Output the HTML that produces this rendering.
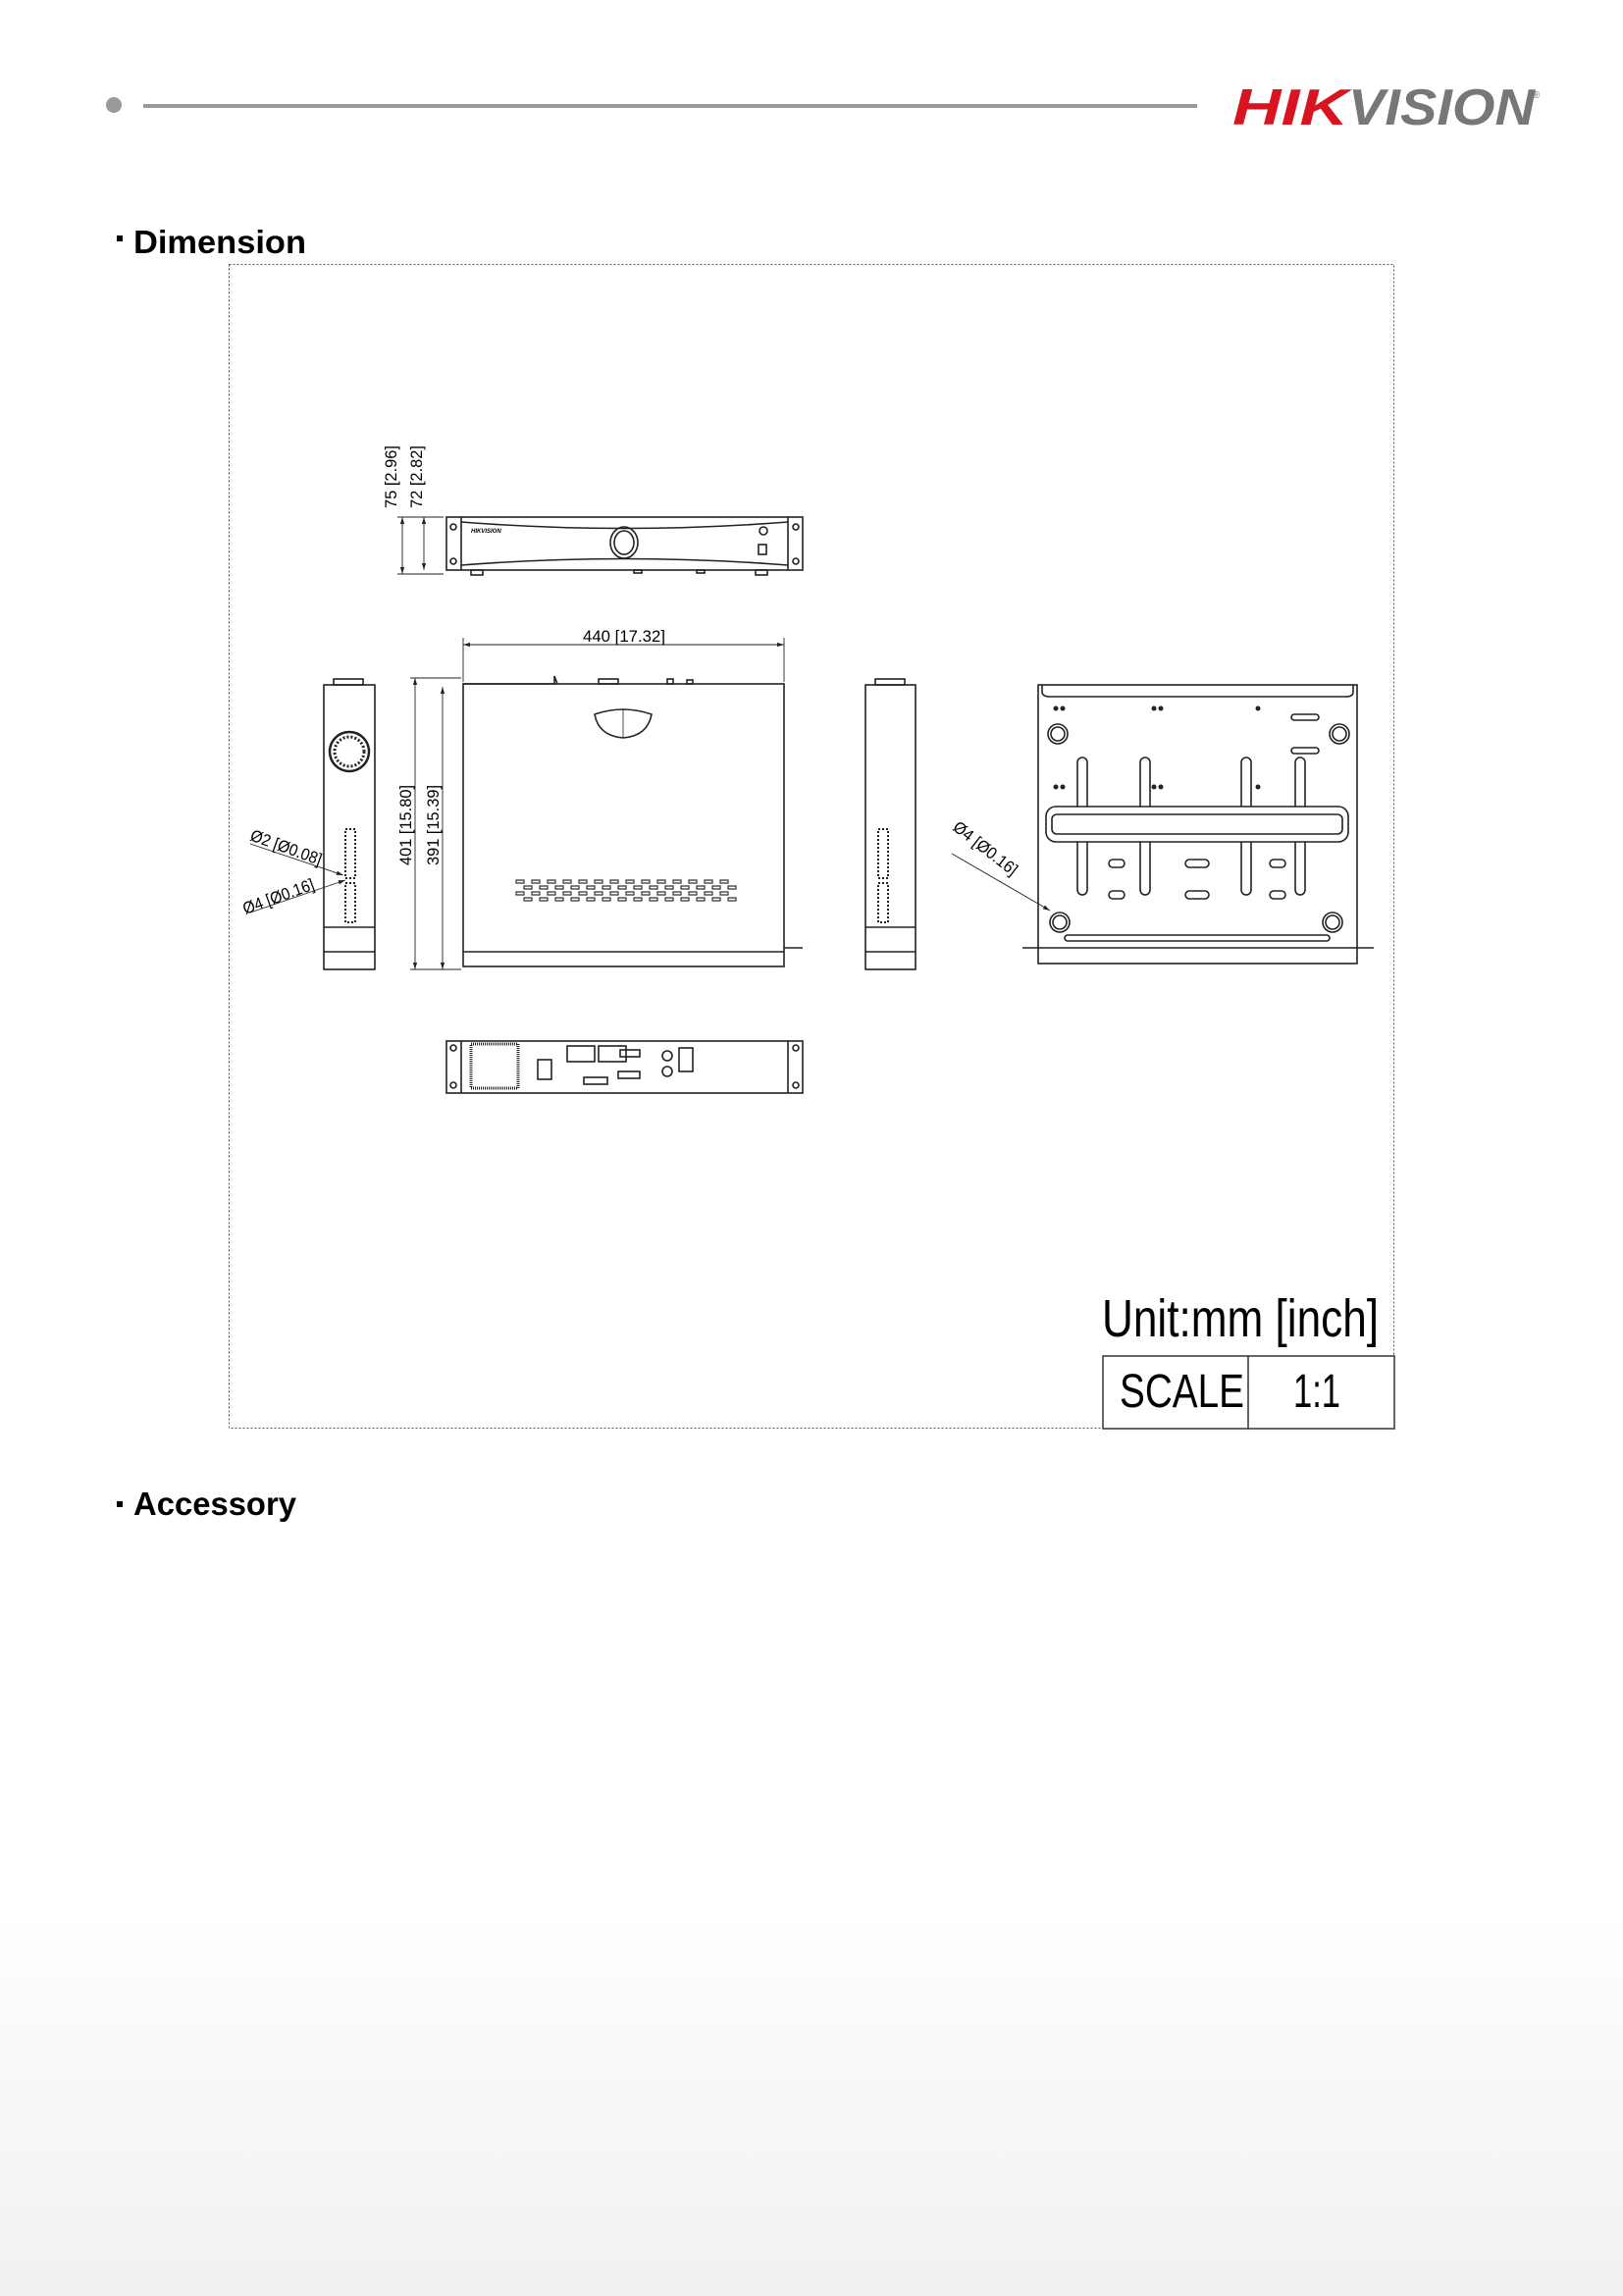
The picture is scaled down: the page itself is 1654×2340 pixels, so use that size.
<!DOCTYPE html>
<html><head><meta charset="utf-8"><style>
html,body{margin:0;padding:0;background:#fff;}
body{width:1654px;height:2340px;position:relative;overflow:hidden;font-family:"Liberation Sans",sans-serif;}
.bg{position:absolute;left:0;top:1950px;width:1654px;height:390px;background:linear-gradient(#fff,#f0f0f0);}
svg{position:absolute;left:0;top:0;}
</style></head><body>
<div class="bg"></div>
<svg width="1654" height="2340" viewBox="0 0 1654 2340" xmlns="http://www.w3.org/2000/svg" font-family="Liberation Sans, sans-serif">
<defs>
<marker id="a" viewBox="0 0 10 10" refX="10" refY="5" markerWidth="8" markerHeight="8" orient="auto-start-reverse"><path d="M0 2 L10 5 L0 8 Z" fill="#222"/></marker>
</defs>
<!-- header -->
<circle cx="116" cy="107" r="8" fill="#999"/>
<rect x="146" y="106" width="1074" height="4" fill="#999"/>
<text x="1256" y="127" font-size="52" font-weight="bold" font-style="italic" fill="#d7141f" textLength="118" lengthAdjust="spacingAndGlyphs">HIK</text>
<text x="1374" y="127" font-size="52" font-weight="bold" font-style="italic" fill="#777" textLength="190" lengthAdjust="spacingAndGlyphs">VISION</text>
<text x="1562" y="100" font-size="10" fill="#777">®</text>
<!-- titles -->
<rect x="119" y="240" width="6" height="6" fill="#000"/>
<text x="136" y="258" font-size="33" font-weight="bold" textLength="176" lengthAdjust="spacingAndGlyphs">Dimension</text>
<rect x="119" y="1530" width="6" height="6" fill="#000"/>
<text x="136" y="1544" font-size="33" font-weight="bold" textLength="166" lengthAdjust="spacingAndGlyphs">Accessory</text>
<!-- dotted box -->
<rect x="233.5" y="269.5" width="1187" height="1186" fill="none" stroke="#555" stroke-width="1" stroke-dasharray="2,2"/>
<!-- scale table -->
<rect x="1124" y="1382" width="297" height="74" fill="#fff" stroke="#333" stroke-width="1.5"/>
<line x1="1272" y1="1382" x2="1272" y2="1456" stroke="#333" stroke-width="1.5"/>
<text x="1123" y="1362" font-size="54" textLength="282" lengthAdjust="spacingAndGlyphs">Unit:mm [inch]</text>
<text x="1141" y="1434" font-size="48" textLength="127" lengthAdjust="spacingAndGlyphs">SCALE</text>
<text x="1318" y="1434" font-size="48" textLength="48" lengthAdjust="spacingAndGlyphs">1:1</text>

<g fill="none" stroke="#222" stroke-width="1.6">
<!-- front view -->
<rect x="455" y="527" width="363" height="54"/>
<line x1="470" y1="527" x2="470" y2="581"/><line x1="803" y1="527" x2="803" y2="581"/>
<path d="M470 532 Q636 545 803 532"/><path d="M470 576 Q636 563 803 576"/>
<ellipse cx="636" cy="553" rx="14" ry="16"/><ellipse cx="636" cy="553" rx="10" ry="12"/>
<circle cx="778" cy="541" r="4"/><rect x="773" y="555" width="8" height="10"/>
<circle cx="462" cy="537" r="3"/><circle cx="462" cy="572" r="3"/><circle cx="811" cy="537" r="3"/><circle cx="811" cy="572" r="3"/>
<rect x="480" y="581" width="12" height="5"/><rect x="770" y="581" width="12" height="5"/><rect x="646" y="581" width="8" height="3"/><rect x="710" y="581" width="8" height="3"/>
<g stroke-width="0.9">
<line x1="405" y1="527" x2="452" y2="527"/><line x1="405" y1="585" x2="452" y2="585"/>
<line x1="410" y1="527" x2="410" y2="585" marker-start="url(#a)" marker-end="url(#a)"/><line x1="432" y1="527" x2="432" y2="581" marker-start="url(#a)" marker-end="url(#a)"/>
</g>
<!-- top view -->
<rect x="472" y="697" width="327" height="288"/>
<line x1="472" y1="970" x2="799" y2="970"/>
<line x1="799" y1="966" x2="818" y2="966"/>
<path d="M472 697 L565 697 L565 689 L568 697"/>
<rect x="610" y="692" width="20" height="5"/><rect x="680" y="692" width="6" height="5"/><rect x="700" y="693" width="6" height="4"/>
<path d="M606 728 Q635 718 664 728 Q660 750 635 752 Q610 750 606 728 Z"/><line x1="635" y1="722" x2="635" y2="752" stroke-width="0.8"/>
<g stroke-width="0.9">
<line x1="472" y1="657" x2="799" y2="657" marker-start="url(#a)" marker-end="url(#a)"/>
<line x1="472" y1="650" x2="472" y2="695"/><line x1="799" y1="650" x2="799" y2="695"/>
<line x1="418" y1="691" x2="470" y2="691"/><line x1="418" y1="988" x2="470" y2="988"/>
<line x1="423" y1="691" x2="423" y2="988" marker-start="url(#a)" marker-end="url(#a)"/><line x1="451" y1="700" x2="451" y2="988" marker-start="url(#a)" marker-end="url(#a)"/>
</g>
<!-- left side view -->
<rect x="330" y="698" width="52" height="290"/>
<line x1="330" y1="945" x2="382" y2="945"/><line x1="330" y1="970" x2="382" y2="970"/>
<circle cx="356" cy="766" r="20" stroke-width="2.5"/><circle cx="356" cy="766" r="15" stroke-dasharray="2,2" stroke-width="3"/>
<rect x="352" y="845" width="10" height="50" stroke-dasharray="2,2" stroke-width="2"/><rect x="352" y="900" width="10" height="40" stroke-dasharray="2,2" stroke-width="2"/>
<rect x="340" y="692" width="30" height="6"/>
<line x1="255" y1="860" x2="350" y2="892" stroke-width="0.9" marker-end="url(#a)"/><line x1="255" y1="930" x2="352" y2="897" stroke-width="0.9" marker-end="url(#a)"/>
<!-- right side view -->
<rect x="882" y="698" width="51" height="290"/>
<line x1="882" y1="945" x2="933" y2="945"/><line x1="882" y1="970" x2="933" y2="970"/>
<rect x="895" y="845" width="10" height="50" stroke-dasharray="2,2" stroke-width="2"/><rect x="895" y="900" width="10" height="40" stroke-dasharray="2,2" stroke-width="2"/>
<rect x="892" y="692" width="30" height="6"/>
<!-- bottom view -->
<rect x="1058" y="698" width="325" height="284"/>
<path d="M1062 698 L1062 705 Q1062 710 1070 710 L1372 710 Q1379 710 1379 705 L1379 698"/>
<line x1="1042" y1="966" x2="1400" y2="966"/>
<rect x="1085" y="953" width="270" height="6" rx="3"/>
<circle cx="1078" cy="748" r="10"/><circle cx="1078" cy="748" r="7"/><circle cx="1365" cy="748" r="10"/><circle cx="1365" cy="748" r="7"/>
<circle cx="1080" cy="940" r="10"/><circle cx="1080" cy="940" r="7"/><circle cx="1358" cy="940" r="10"/><circle cx="1358" cy="940" r="7"/>
<g fill="#fff">
<rect x="1098" y="772" width="10" height="140" rx="5"/><rect x="1162" y="772" width="10" height="140" rx="5"/>
<rect x="1265" y="772" width="10" height="140" rx="5"/><rect x="1320" y="772" width="10" height="140" rx="5"/>
<rect x="1066" y="822" width="308" height="36" rx="10"/>
</g>
<rect x="1072" y="830" width="296" height="20" rx="5"/>
<rect x="1130" y="876" width="16" height="8" rx="4"/><rect x="1208" y="876" width="24" height="8" rx="4"/><rect x="1294" y="876" width="16" height="8" rx="4"/>
<rect x="1130" y="908" width="16" height="8" rx="4"/><rect x="1208" y="908" width="24" height="8" rx="4"/><rect x="1294" y="908" width="16" height="8" rx="4"/>
<rect x="1316" y="728" width="28" height="6" rx="3"/><rect x="1316" y="762" width="28" height="6" rx="3"/>
<line x1="970" y1="870" x2="1070" y2="928" stroke-width="0.9" marker-end="url(#a)"/>
<!-- rear view -->
<rect x="455" y="1061" width="363" height="53"/>
<line x1="470" y1="1061" x2="470" y2="1114"/><line x1="803" y1="1061" x2="803" y2="1114"/>
<rect x="480" y="1064" width="48" height="45" stroke-dasharray="1,1" stroke-width="3"/>
<rect x="548" y="1080" width="14" height="20"/>
<rect x="578" y="1066" width="28" height="16"/><rect x="610" y="1066" width="28" height="16"/>
<rect x="632" y="1070" width="20" height="7"/><rect x="630" y="1092" width="22" height="7"/>
<circle cx="680" cy="1076" r="5"/><circle cx="680" cy="1092" r="5"/><rect x="692" y="1068" width="14" height="24"/>
<rect x="595" y="1098" width="24" height="7"/>
<circle cx="462" cy="1068" r="3"/><circle cx="462" cy="1106" r="3"/><circle cx="811" cy="1068" r="3"/><circle cx="811" cy="1106" r="3"/>
</g>
<!-- vents on top view -->
<g fill="none" stroke="#333" stroke-width="1.2">
<path id="vr" d="M526 897 h8 v3 h-8 z M542 897 h8 v3 h-8 z M558 897 h8 v3 h-8 z M574 897 h8 v3 h-8 z M590 897 h8 v3 h-8 z M606 897 h8 v3 h-8 z M622 897 h8 v3 h-8 z M638 897 h8 v3 h-8 z M654 897 h8 v3 h-8 z M670 897 h8 v3 h-8 z M686 897 h8 v3 h-8 z M702 897 h8 v3 h-8 z M718 897 h8 v3 h-8 z M734 897 h8 v3 h-8 z"/>
<use href="#vr" y="6" x="8"/><use href="#vr" y="12"/><use href="#vr" y="18" x="8"/>
</g>
<!-- dots bottom view -->
<g fill="#222">
<circle cx="1076" cy="722" r="2.5"/><circle cx="1083" cy="722" r="2.5"/><circle cx="1176" cy="722" r="2.5"/><circle cx="1183" cy="722" r="2.5"/><circle cx="1282" cy="722" r="2.5"/>
<circle cx="1076" cy="802" r="2.5"/><circle cx="1083" cy="802" r="2.5"/><circle cx="1176" cy="802" r="2.5"/><circle cx="1183" cy="802" r="2.5"/><circle cx="1282" cy="802" r="2.5"/>
</g>
<!-- dim texts -->
<g font-size="17" fill="#000">
<text transform="translate(404,518) rotate(-90)" textLength="64" lengthAdjust="spacingAndGlyphs">75 [2.96]</text>
<text transform="translate(430,518) rotate(-90)" textLength="64" lengthAdjust="spacingAndGlyphs">72 [2.82]</text>
<text x="594" y="654" textLength="84" lengthAdjust="spacingAndGlyphs">440 [17.32]</text>
<text transform="translate(419,882) rotate(-90)" textLength="82" lengthAdjust="spacingAndGlyphs">401 [15.80]</text>
<text transform="translate(447,882) rotate(-90)" textLength="82" lengthAdjust="spacingAndGlyphs">391 [15.39]</text>
<text transform="translate(254,856) rotate(20)" textLength="76" lengthAdjust="spacingAndGlyphs">Ø2 [Ø0.08]</text>
<text transform="translate(250,932) rotate(-20)" textLength="76" lengthAdjust="spacingAndGlyphs">Ø4 [Ø0.16]</text>
<text transform="translate(970,845) rotate(38)" textLength="78" lengthAdjust="spacingAndGlyphs">Ø4 [Ø0.16]</text>
</g>
<text x="480" y="543" font-size="6" font-weight="bold" font-style="italic">HIKVISION</text>
</svg>
</body></html>
